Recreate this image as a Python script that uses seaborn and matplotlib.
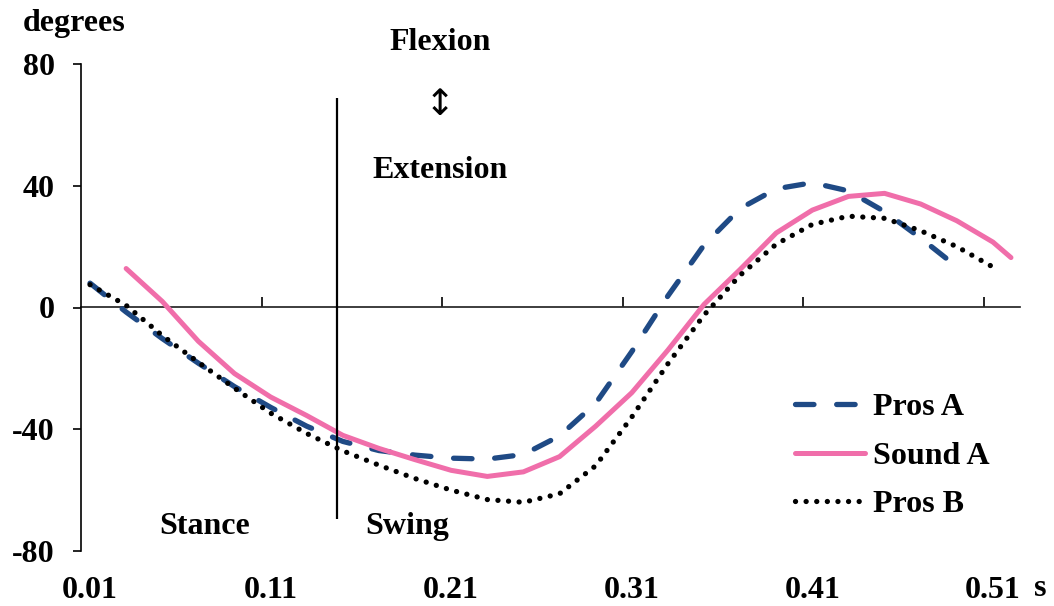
import matplotlib
matplotlib.use("Agg")
import matplotlib.pyplot as plt
import seaborn as sns
import pandas as pd

# ---------------- data ----------------
time_pros_a = [0.01, 0.03, 0.05, 0.07, 0.09, 0.11, 0.13, 0.15, 0.17, 0.19, 0.21, 0.23,
               0.25, 0.27, 0.29, 0.31, 0.33, 0.35, 0.37, 0.39, 0.41, 0.43, 0.45, 0.47, 0.49]
pros_a = [8.0, -1.5, -10.2, -18.3, -26.0, -32.8, -39.0, -44.0, -47.0, -48.5, -49.5, -49.8,
          -48.3, -42.2, -31.5, -14.5, 3.8, 20.5, 32.5, 39.0, 41.0, 38.3, 31.5, 22.8, 13.4]

time_sound_a = [0.03, 0.05, 0.07, 0.09, 0.11, 0.13, 0.15, 0.17, 0.19, 0.21, 0.23, 0.25,
                0.27, 0.29, 0.31, 0.33, 0.35, 0.37, 0.39, 0.41, 0.43, 0.45, 0.47, 0.49,
                0.51, 0.52]
sound_a = [12.8, 2.0, -11.1, -21.7, -29.4, -35.5, -42.0, -46.3, -50.0, -53.5, -55.5, -54.0,
           -49.0, -39.0, -28.0, -14.0, 1.0, 12.5, 24.5, 32.0, 36.5, 37.5, 34.0, 28.5,
           21.5, 16.4]

time_pros_b = [0.01, 0.03, 0.05, 0.07, 0.09, 0.11, 0.13, 0.15, 0.17, 0.19, 0.21, 0.23,
               0.25, 0.27, 0.29, 0.31, 0.33, 0.35, 0.37, 0.39, 0.41, 0.43, 0.45, 0.47,
               0.49, 0.51]
pros_b = [7.5, 0.7, -9.2, -18.0, -26.5, -34.7, -41.4, -47.1, -51.8, -56.2, -60.0, -63.1,
          -64.0, -61.2, -52.0, -36.0, -18.5, -2.5, 10.6, 20.8, 27.3, 30.0, 29.3, 25.2,
          20.0, 13.3]

x_label_positions = [0.01, 0.11, 0.21, 0.31, 0.41, 0.51]
x_tick_labels = ["0.01", "0.11", "0.21", "0.31", "0.41", "0.51"]
x_mark_positions = [0.105, 0.205, 0.305, 0.405, 0.505]
y_ticks = [-80, -40, 0, 40, 80]
y_tick_labels = ["-80", "-40", "0", "40", "80"]

stance_swing_boundary = 0.1467
boundary_y = (-69.5, 68.9)

# ---------------- style ----------------
sns.set_theme(style="white")
plt.rcParams["font.family"] = ["Liberation Serif", "DejaVu Sans"]
plt.rcParams["font.weight"] = "bold"
plt.rcParams["text.color"] = "black"
plt.rcParams["xtick.color"] = "black"
plt.rcParams["ytick.color"] = "black"
plt.rcParams["axes.labelcolor"] = "black"
FS = 23

navy = "#1F4A85"
pink = "#F06EAA"

fig = plt.figure(figsize=(10.54, 6.06), dpi=100)
ax = fig.add_axes([81 / 1054, 1 - 551 / 606, (1020 - 81) / 1054, (551 - 64) / 606])

df_a = pd.DataFrame({"t": time_pros_a, "v": pros_a})
df_s = pd.DataFrame({"t": time_sound_a, "v": sound_a})
df_b = pd.DataFrame({"t": time_pros_b, "v": pros_b})

sns.lineplot(data=df_a, x="t", y="v", ax=ax, color=navy, lw=3.8,
             linestyle=(0, (3.5, 4.3)), dash_capstyle="round", label="Pros A",
             estimator=None, sort=False)
sns.lineplot(data=df_s, x="t", y="v", ax=ax, color=pink, lw=3.6,
             solid_capstyle="round", solid_joinstyle="round", label="Sound A",
             estimator=None, sort=False)
sns.lineplot(data=df_b, x="t", y="v", ax=ax, color="black", lw=3.8,
             linestyle=(0, (0.01, 2.0)), dash_capstyle="round", label="Pros B",
             estimator=None, sort=False)

ax.set_xlim(0.005, 0.525)
ax.set_ylim(-80, 80)
ax.set_xlabel("")
ax.set_ylabel("")

for s in ["top", "right", "bottom"]:
    ax.spines[s].set_visible(False)
ax.spines["left"].set_color("black")
ax.spines["left"].set_linewidth(1.2)

ax.set_yticks(y_ticks)
ax.set_yticklabels(y_tick_labels, fontsize=FS, fontweight="bold", color="black")
ax.tick_params(axis="y", direction="out", length=6, width=1.2, pad=13, colors="black",
               left=True)

ax.set_xticks(x_label_positions)
ax.set_xticklabels(x_tick_labels, fontsize=FS, fontweight="bold", color="black")
ax.tick_params(axis="x", length=0, pad=18, colors="black", bottom=True)

# zero line with tick marks
zero_ax = ax.secondary_xaxis(0.5)
zero_ax.set_xticks(x_mark_positions)
zero_ax.set_xticklabels([])
zero_ax.tick_params(axis="x", direction="out", length=7, width=1.2, colors="black")
zero_ax.spines["bottom"].set_color("black")
zero_ax.spines["bottom"].set_linewidth(1.2)

# stance / swing boundary
ax.vlines(stance_swing_boundary, boundary_y[0], boundary_y[1], color="black", lw=1.6)

# annotations
fig.text(23 / 1054, 1 - 31 / 606, "degrees", fontsize=FS, fontweight="bold",
         ha="left", va="baseline", color="black")
ax.text(0.2037, 84.6, "Flexion", fontsize=FS, fontweight="bold", ha="center",
        va="baseline", clip_on=False, color="black")
ax.text(0.2037, 66.6, "\u2195", fontsize=26, ha="center", va="center",
        family=["DejaVu Sans"], fontweight="normal", color="black")
ax.text(0.2037, 42.6, "Extension", fontsize=FS, fontweight="bold", ha="center",
        va="baseline", color="black")
ax.text(0.0736, -74.4, "Stance", fontsize=FS, fontweight="bold", ha="center",
        va="baseline", color="black")
ax.text(0.1854, -74.4, "Swing", fontsize=FS, fontweight="bold", ha="center",
        va="baseline", color="black")
fig.text(1040 / 1054, 1 - 589 / 606, "s", fontsize=FS, fontweight="bold",
         ha="center", va="center", color="black")

leg = ax.legend(loc="upper left", bbox_to_anchor=(795 / 1054, 1 - 393 / 606),
                bbox_transform=fig.transFigure, frameon=False, borderpad=0,
                borderaxespad=0, handlelength=2.2, handletextpad=0.25,
                labelspacing=0.6, prop={"size": FS, "weight": "bold"})
for t in leg.get_texts():
    t.set_color("black")

fig.savefig("out.png", dpi=100)
